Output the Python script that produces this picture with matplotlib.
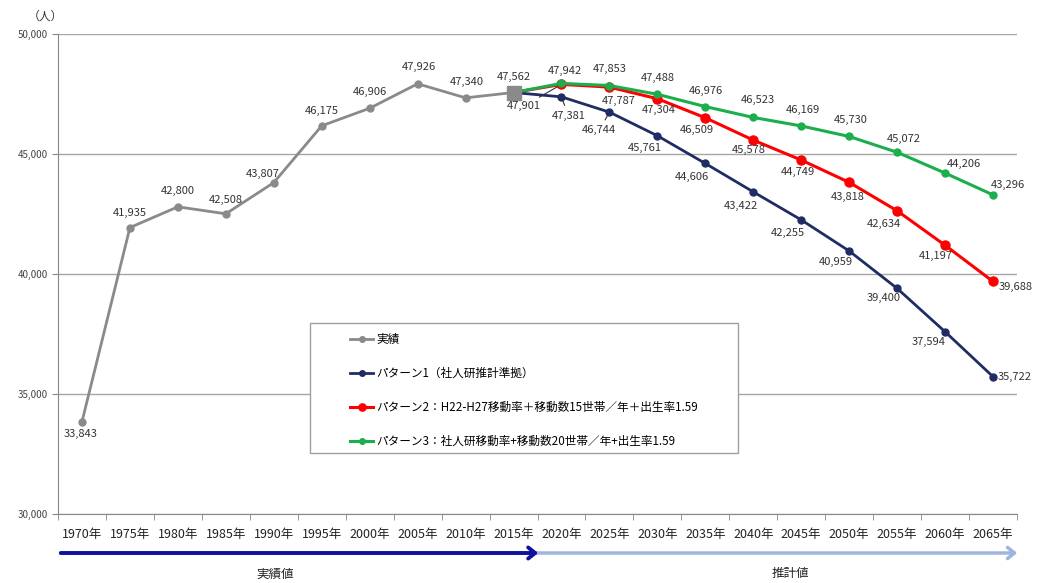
import matplotlib
matplotlib.use("Agg")
import matplotlib.pyplot as plt
from matplotlib.patches import Rectangle, FancyArrowPatch

plt.rcParams['font.family'] = ['Noto Sans CJK JP', 'DejaVu Sans']

# ---------------- data ----------------
years = ["1970年", "1975年", "1980年", "1985年", "1990年", "1995年", "2000年", "2005年",
         "2010年", "2015年", "2020年", "2025年", "2030年", "2035年", "2040年", "2045年",
         "2050年", "2055年", "2060年", "2065年"]
actual = [33843, 41935, 42800, 42508, 43807, 46175, 46906, 47926, 47340, 47562]
pattern1 = [47562, 47381, 46744, 45761, 44606, 43422, 42255, 40959, 39400, 37594, 35722]
pattern2 = [47562, 47901, 47787, 47304, 46509, 45578, 44749, 43818, 42634, 41197, 39688]
pattern3 = [47562, 47942, 47853, 47488, 46976, 46523, 46169, 45730, 45072, 44206, 43296]
legend_labels = ["実績", "パターン1（社人研推計準拠）",
                 "パターン2：H22-H27移動率＋移動数15世帯／年＋出生率1.59",
                 "パターン3：社人研移動率+移動数20世帯／年+出生率1.59"]
y_ticks = [30000, 35000, 40000, 45000, 50000]

# label offsets in pixels (dx, dy up)
off_actual = [(-1, -12), (0, 15), (0, 16), (0, 14), (-11, 9), (0, 15), (0, 16), (1, 17), (1, 16), (0, 16)]
off_p3 = [(3, 12), (0, 17), (0, 16), (1, 16), (5, 17), (2, 16), (2, 16), (7, 13), (19, 9), (15, 10)]
off_p2 = [(-38, -22), (9, -14), (1, -11), (-8, -12), (-5, -10), (-3, -12), (-1, -15), (-13, -13), (-9, -11), (23, -5)]
off_p1 = [(7, -19), (-10, -18), (-13, -12), (-13, -14), (-12, -14), (-13, -13), (-13, -11), (-13, -10), (-16, -10), (22, 0)]
leader = {("p2", 0), ("p1", 0), ("p1", 1)}

GRAY = "#8a8a8a"
NAVY = "#1f2d64"
RED = "#ff0000"
GREEN = "#1aae4c"
TXT = "#333333"

W, H = 1037, 583
fig = plt.figure(figsize=(W / 100, H / 100), dpi=100)
ax = fig.add_axes([58 / W, 1 - 514 / H, (1017 - 58) / W, (514 - 34) / H])

xa = list(range(len(actual)))
xp = list(range(len(actual) - 1, len(years)))

ax.plot(xa, actual, color=GRAY, lw=2.0, marker="o", ms=5, zorder=3)
ax.plot(xp, pattern1, color=NAVY, lw=2.0, marker="o", ms=5, zorder=4)
ax.plot(xp, pattern2, color=RED, lw=2.2, marker="o", ms=6.5, zorder=3)
ax.plot(xp, pattern3, color=GREEN, lw=2.2, marker="o", ms=5, zorder=5)
ax.plot([xa[-1]], [actual[-1]], marker="s", ms=10, color=GRAY, zorder=6, ls="none")

def labels(xs, vals, offs, key):
    for i, (x, v, o) in enumerate(zip(xs, vals, offs)):
        if key != "actual" and i == 0:
            continue
        dx, dy = o
        kw = {}
        if (key, i - 1) in leader:
            kw["arrowprops"] = dict(arrowstyle="-", color="#333333", lw=0.8, shrinkA=2, shrinkB=3)
        ax.annotate(f"{v:,}", xy=(x, v), xytext=(dx * 0.72, dy * 0.72), textcoords="offset points",
                    ha="center", va="center", fontsize=8, color=TXT, zorder=8, **kw)

labels(xa, actual, off_actual, "actual")
labels(xp, pattern3, [(0, 0)] + off_p3, "p3")
labels(xp, pattern2, [(0, 0)] + off_p2, "p2")
labels(xp, pattern1, [(0, 0)] + off_p1, "p1")

ax.set_xlim(-0.5, len(years) - 0.5)
ax.set_ylim(30000, 50000)
ax.set_yticks(y_ticks)
ax.set_yticklabels([f"{t:,}" for t in y_ticks], fontsize=7, color="#444444")
ax.yaxis.grid(True, color="#a6a6a6", lw=1.0)
ax.set_axisbelow(True)
ax.set_xticks(range(len(years)))
ax.set_xticklabels(years, fontsize=9, color="#222222")
ax.set_xticks([i - 0.5 for i in range(len(years) + 1)], minor=True)
ax.tick_params(axis="x", which="major", length=0, pad=10)
ax.tick_params(axis="x", which="minor", length=4, color="#888888")
ax.tick_params(axis="y", length=4, color="#888888", pad=3)
for s in ["top", "right"]:
    ax.spines[s].set_visible(False)
for s in ["left", "bottom"]:
    ax.spines[s].set_color("#888888")

fig.text(45 / W, 1 - 16 / H, "（人）", fontsize=8.5, ha="center", va="center", color="#333333")

# legend box
fig.patches.append(Rectangle((310 / W, 1 - 453 / H), (738 - 310) / W, (453 - 323) / H,
                             transform=fig.transFigure, facecolor="white", edgecolor="#a0a0a0",
                             lw=1.0, zorder=7))
handles = ax.get_lines()[:4]
leg = fig.legend(handles, legend_labels, loc="upper left", bbox_to_anchor=(344 / W, 1 - 327 / H),
                 frameon=False, fontsize=8.4, labelspacing=1.8, handlelength=2.0, handletextpad=0.3,
                 borderpad=0.0, markerscale=0.8)
leg.set_zorder(9)

# bottom arrows
fig.patches.append(FancyArrowPatch(
    (58 / W, 1 - 553 / H), (1020 / W, 1 - 553 / H), transform=fig.transFigure,
    arrowstyle="->,head_length=5,head_width=4", color="#9db6de", lw=2.5, mutation_scale=1))
fig.patches.append(FancyArrowPatch(
    (58 / W, 1 - 553 / H), (541 / W, 1 - 553 / H), transform=fig.transFigure,
    arrowstyle="->,head_length=5,head_width=4", color="#1010a0", lw=2.8, mutation_scale=1))
fig.text(275 / W, 1 - 574 / H, "実績値", fontsize=9, ha="center", va="center", color="#222222")
fig.text(790 / W, 1 - 573 / H, "推計値", fontsize=9, ha="center", va="center", color="#222222")

fig.savefig("out.png", dpi=100, facecolor="white")
